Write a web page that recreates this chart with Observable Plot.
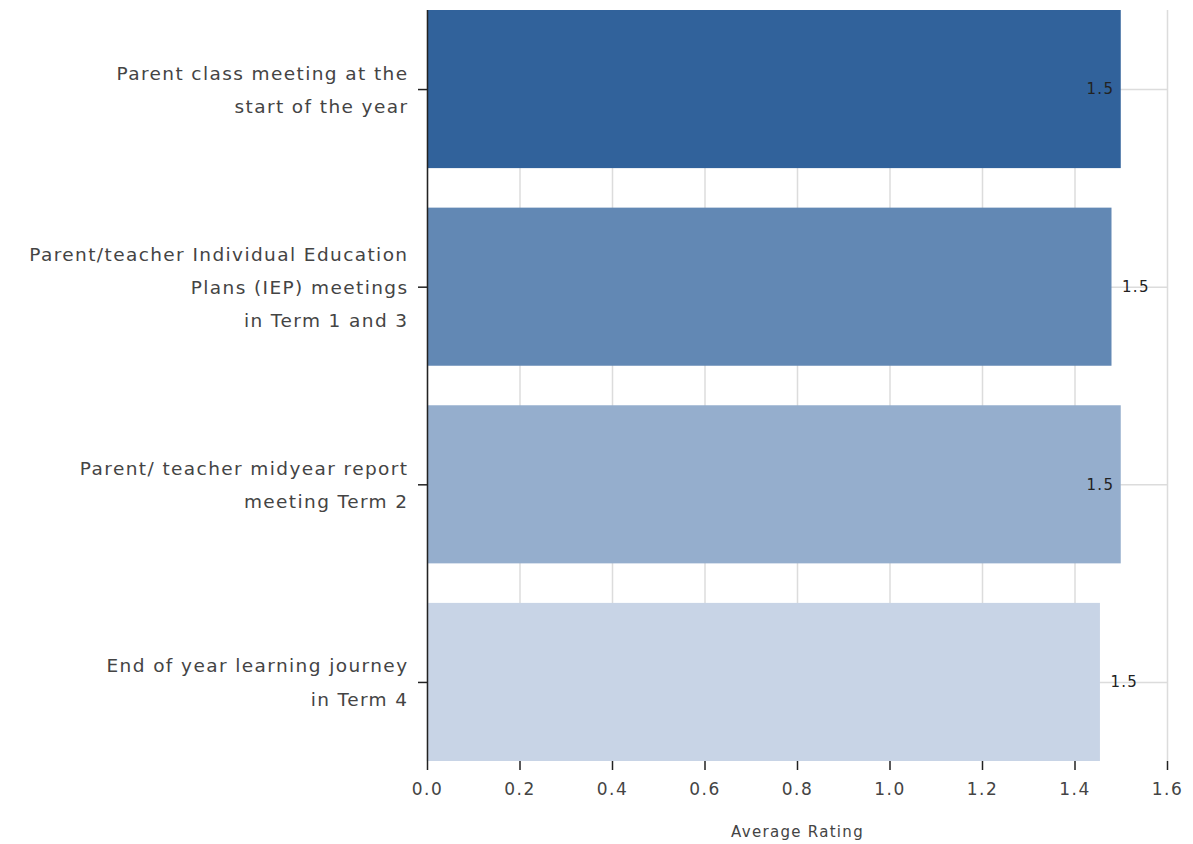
<!DOCTYPE html>
<html>
<head>
<meta charset="utf-8">
<script src="https://cdn.jsdelivr.net/npm/d3@7"></script>
<script src="https://cdn.jsdelivr.net/npm/@observablehq/plot@0.6"></script>
<style>
  html, body { margin: 0; padding: 0; background: #fff; }
  #chart { width: 1193px; height: 844px; }
  #chart g[aria-label="y-axis tick label"] text { letter-spacing: 1.4px; }
  #chart g[aria-label="x-axis tick label"] text { letter-spacing: 1.5px; }
  #chart g[aria-label="text"] text { letter-spacing: 1.3px; }
</style>
</head>
<body>
<div id="chart"></div>
<script>
const categories = [
  "Parent class meeting at the\nstart of the year",
  "Parent/teacher Individual Education\nPlans (IEP) meetings\nin Term 1 and 3",
  "Parent/ teacher midyear report\nmeeting Term 2",
  "End of year learning journey\nin Term 4"
];
const values = [1.50, 1.48, 1.50, 1.455];
const colors = ["#31629b", "#6288b4", "#95aecd", "#c8d4e6"];
const xTicks = [0, 0.2, 0.4, 0.6, 0.8, 1.0, 1.2, 1.4, 1.6];
const xLabel = "Average Rating";

const data = categories.map((c, i) => ({cat: c, value: values[i], color: colors[i]}));
const inside = data.filter(d => d.value >= 1.49);
const outside = data.filter(d => d.value < 1.49);
const font = "'DejaVu Sans', sans-serif";
const fmt = v => (Math.round(v * 10 + 1e-9) / 10).toFixed(1);

const chart = Plot.plot({
  width: 1193,
  height: 844,
  marginLeft: 427,
  marginRight: 26,
  marginTop: 10,
  marginBottom: 83,
  style: {fontFamily: font, background: "#fff", overflow: "visible"},
  x: {domain: [0, 1.6], ticks: xTicks},
  y: {domain: categories, padding: 0.2, paddingOuter: 0, round: false},
  marks: [
    Plot.gridX(xTicks, {stroke: "#dcdcdc", strokeOpacity: 1, strokeWidth: 1.5}),
    Plot.gridY(categories, {stroke: "#dcdcdc", strokeOpacity: 1, strokeWidth: 1.5}),
    Plot.barX(data, {y: "cat", x: "value", fill: "color"}),
    Plot.text(inside, {y: "cat", x: "value", text: d => fmt(d.value), textAnchor: "end", dx: -7, fill: "#222", fontSize: 15, fontFamily: font}),
    Plot.text(outside, {y: "cat", x: "value", text: d => fmt(d.value), textAnchor: "start", dx: 10, fill: "#222", fontSize: 15, fontFamily: font}),
    Plot.ruleX([0], {stroke: "#222", strokeWidth: 1.5}),
    Plot.ruleY([0], {frameAnchor: "bottom", stroke: "#222", strokeWidth: 1.5}),
    Plot.axisX({ticks: xTicks, tickFormat: d3.format(".1f"), tickSize: 9, tickPadding: 12, fontSize: 17, fill: "#444", stroke: "#222", strokeWidth: 1.5, label: null}),
    Plot.axisY({tickSize: 9, tickFormat: () => "", stroke: "#222", strokeWidth: 1.5, label: null}),
    Plot.axisY({tickSize: 0, tickPadding: 19, fontSize: 18.5, fill: "#444", lineHeight: 1.8, dy: -4, label: null}),
    Plot.text([xLabel], {frameAnchor: "bottom", dy: 75, fontSize: 15, fill: "#444", fontFamily: font})
  ]
});
document.getElementById("chart").appendChild(chart);
</script>
</body>
</html>
